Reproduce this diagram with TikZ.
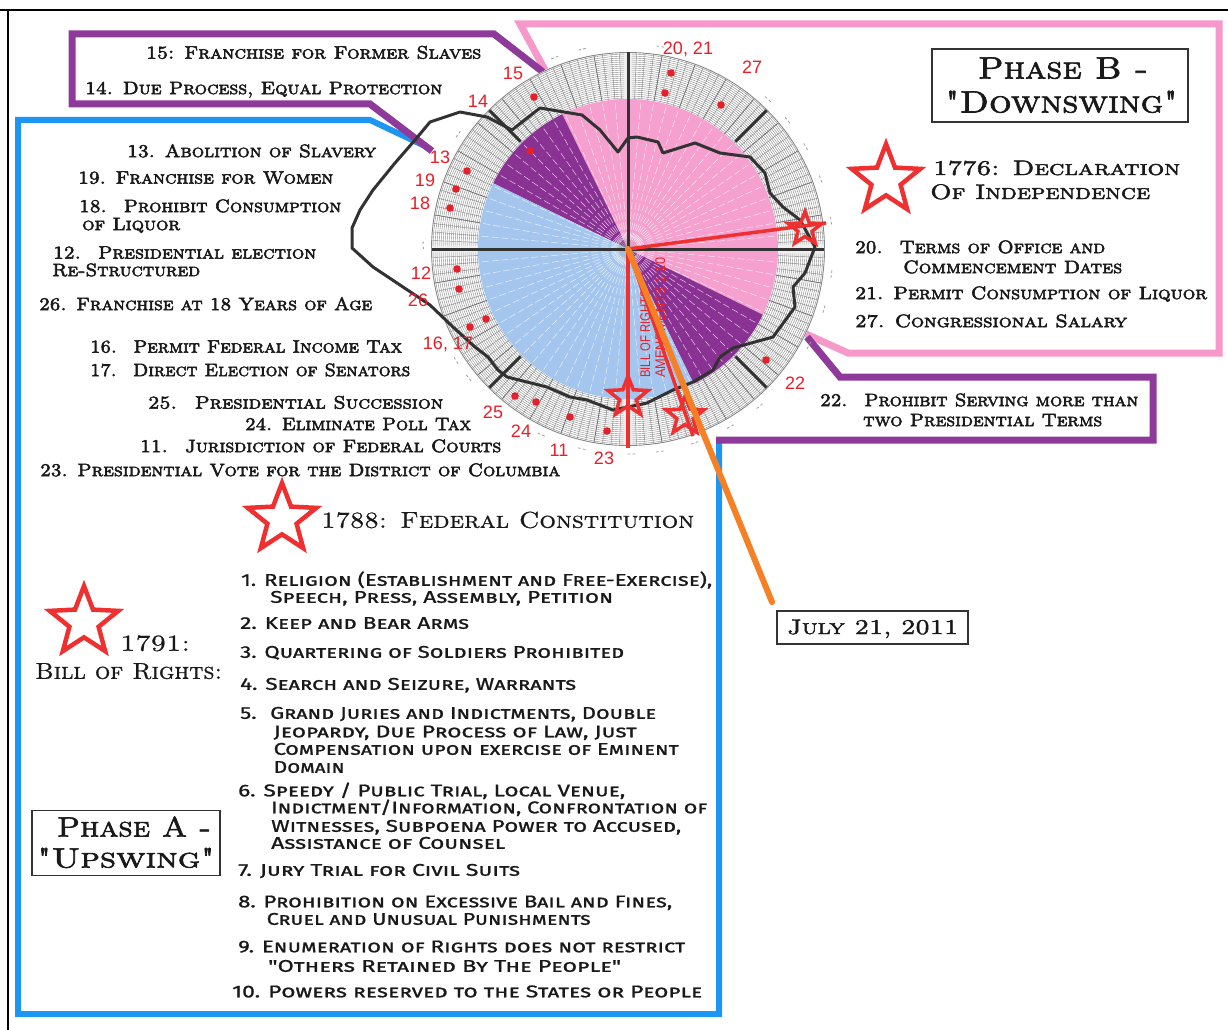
\documentclass[tikz,border=0pt]{standalone}
\usepackage{fontspec}
\usepackage{graphicx}
\usetikzlibrary{shapes.geometric}

% copperplate-like caps faces, a sans small-caps face and an Arial-like face
\newfontfamily\cgheavy{lmromancaps10-regular.otf}[FakeBold=3]
\newfontfamily\cgmid{lmromancaps10-regular.otf}[FakeBold=2]
\newfontfamily\cglight{lmromancaps10-regular.otf}[FakeBold=0.8]
\newfontfamily\listfont{Fira Sans}[Letters=SmallCaps, FakeBold=1]
\newfontfamily\arialfont{Liberation Sans}

\definecolor{cFramePink}{RGB}{246,152,202}
\definecolor{cFramePurple}{RGB}{142,58,155}
\definecolor{cFrameBlue}{RGB}{28,150,242}
\definecolor{cSecPink}{RGB}{245,160,206}
\definecolor{cSecPurple}{RGB}{138,50,148}
\definecolor{cSecBlue}{RGB}{164,198,238}
\definecolor{cRed}{RGB}{238,48,48}
\definecolor{cLab}{RGB}{232,30,40}
\definecolor{cOrange}{RGB}{246,128,38}
\definecolor{cDark}{RGB}{50,50,50}
\definecolor{cRing}{RGB}{135,135,135}
\definecolor{cInk}{RGB}{25,25,25}

% set a line of text to a given width (horizontal scaling only)
\newlength\fitwd
\newcommand\fitto[2]{\settowidth\fitwd{#2}\scalebox{\fpeval{(#1)/\fitwd}}[1]{#2}}
\newcommand\txtline[6]{\node[#1] (#2) at (#3,#4) {\fitto{#5}{#6}};}

\tikzset{
  sidetxt/.style={font=\cgheavy\fontsize{18}{18}\selectfont, text=cInk, inner sep=0pt, anchor=base west, yshift=-6.1pt},
  bigtxt/.style={font=\cgmid\fontsize{21}{21}\selectfont, text=cInk, inner sep=0pt, anchor=base west, yshift=-7pt},
  thintxt/.style={font=\cglight\fontsize{23}{23}\selectfont, text=cInk, inner sep=0pt, anchor=base west, yshift=-7.8pt},
  phasetxt/.style={font=\cgmid\fontsize{31}{31}\selectfont, text=cInk, inner sep=0pt, anchor=base, yshift=-10.5pt},
  phaseAtxt/.style={font=\cgmid\fontsize{28}{28}\selectfont, text=cInk, inner sep=0pt, anchor=base, yshift=-9.5pt},
  listtxt/.style={font=\listfont\fontsize{17}{17}\selectfont, text=cInk, inner sep=0pt, anchor=base west, yshift=-5.8pt},
  numlab/.style={font=\arialfont\fontsize{18}{18}\selectfont, text=cLab, inner sep=0pt, anchor=base, yshift=-6.5pt},
  rottxt/.style={font=\arialfont\fontsize{14}{14}\selectfont, text=cLab, inner sep=0pt, anchor=base west, rotate=90},
  labelbox/.style={draw=black!80, line width=1.1pt, inner sep=0pt, fill=white},
  redstar/.style={star, star points=5, star point ratio=2.35, draw=cRed, inner sep=0pt},
  frpink/.style={draw=cFramePink, line width=7pt, line join=miter},
  frpurple/.style={draw=cFramePurple, line width=7pt, line join=miter},
  frblue/.style={draw=cFrameBlue, line width=6pt, line join=miter},
  ringline/.style={draw=cRing, line width=0.4pt},
  axisline/.style={draw=cDark, line width=3pt},
  curveline/.style={draw=cDark, line width=3pt, line join=round},
  redline/.style={draw=cRed, line width=3.5pt},
  orangeline/.style={draw=cOrange, line width=6pt, line cap=round},
  dialmark/.style={draw=gray!75, line width=0.8pt},
}

\begin{document}
\begin{tikzpicture}[x=1pt,y=-1pt]
\useasboundingbox (0,0) rectangle (1228,1030);
\fill[white] (0,0) rectangle (1228,1030);

% outer page rules
\draw[black, line width=2pt] (0,10) -- (1228,10);
\draw[black, line width=2pt] (8,10) -- (8,1030);

% phase frames
\draw[frblue] (427,147) -- (370,120) -- (18,120) -- (18,1014) -- (719,1014) -- (719,437);
\draw[frpink] (545,70) -- (520,24) -- (1219,24) -- (1219,353) -- (848,353) -- (806,334);
\draw[frpurple] (543,72) -- (494,34) -- (72,34) -- (72,104) -- (370,104) -- (432,151);
\draw[frpurple] (807,337) -- (840,377) -- (1153,377) -- (1153,440) -- (716,440);

% dial
\coordinate (C) at (628,249);
\fill[white] (C) circle[radius=197];
\foreach \r in {151,153,...,195} \draw[ringline] (C) circle[radius=\r];
\foreach \a in {0,2.5,...,357.5} \draw[ringline] (C) ++(\a:150) -- ++(\a:46);
\foreach \a in {0,10,...,350} \draw[cRing!80!black, line width=0.6pt] (C) ++(\a:150) -- ++(\a:46);
\draw[cRing, line width=0.9pt] (C) circle[radius=196.5];
% small graduation marks outside the rim
\foreach \a in {-112,-104,-82,-48,-40,-31,-21,-9,6,16,27,49,59,70,80,88,102,114,140,146,180,-147}
  {\draw[dialmark] (C) ++(\a:205) -- ++(\a+90:2.5);
   \draw[dialmark] (C) ++(\a+1.4:205) -- ++(\a+91.4:2.5);}

% coloured sectors
\fill[cSecPink] (C) -- ++(-116:150) arc[start angle=-116, end angle=26, radius=150] -- cycle;
\fill[cSecPurple] (C) -- ++(-154:150) arc[start angle=-154, end angle=-116, radius=150] -- cycle;
\fill[cSecPurple] (C) -- ++(26:150) arc[start angle=26, end angle=64, radius=150] -- cycle;
\fill[cSecBlue] (C) -- ++(64:150) arc[start angle=64, end angle=206, radius=150] -- cycle;
\foreach \a in {0,5,...,355} \draw[white, opacity=0.75, line width=0.5pt, dash pattern=on 7pt off 3pt] (C) ++(\a:10) -- ++(\a:138);
\foreach \a in {0,10,...,350} \draw[gray!60, line width=0.3pt] (C) -- ++(\a:12);

% axes and quadrant ticks
\draw[axisline] (C) ++(180:196) -- ++(0:392);
\draw[axisline] (C) -- ++(-90:197);
\foreach \a in {45,135,-45,-135} \draw[axisline] (C) ++(\a:152) -- ++(\a:44);

% trace
\draw[curveline] (430,305) -- (400,285) -- (373,267) -- (352,248) -- (352,228) -- (360,210)
  -- (373,190) -- (395,163) -- (415,140) -- (430,122) -- (460,112) -- (487,117) -- (512,130)
  -- (540,108) -- (582,115) -- (600,130) -- (618,152) -- (628,138) -- (637,137) -- (658,142)
  -- (663,153) -- (695,143) -- (720,153) -- (750,157) -- (765,173) -- (770,193) -- (783,207)
  -- (800,220) -- (815,247) -- (810,260) -- (805,273) -- (793,287) -- (795,307) -- (773,337)
  -- (733,348) -- (720,357) -- (713,370) -- (693,382) -- (673,390) -- (647,403) -- (613,410)
  -- (587,400) -- (570,397) -- (547,387) -- (507,377) -- (498,370) -- (488,357) -- (475,347)
  -- (453,327) -- cycle;

% amendment dots
\foreach \x/\y in {534/97, 530/151, 467/171, 456/189, 450/208, 457/269, 459/289, 486/319,
  470/327, 515/396, 536/402, 570/417, 607/431, 671/73, 665/93, 721/105, 766/360}
  \fill[cLab] (\x,\y) circle[radius=3.8];

% amendment numbers
\node[numlab] (l15) at (513,73) {15};
\node[numlab] (l14) at (478,101) {14};
\node[numlab] (l13) at (440,157) {13};
\node[numlab] (l19) at (425,180) {19};
\node[numlab] (l18) at (420,203) {18};
\node[numlab] (l12) at (421,273) {12};
\node[numlab] (l26) at (418,300) {26};
\node[numlab] (l1617) at (448,343) {16, 17};
\node[numlab] (l25) at (493,412) {25};
\node[numlab] (l24) at (521,431) {24};
\node[numlab] (l11) at (559,450) {11};
\node[numlab] (l23) at (604,458) {23};
\node[numlab] (l2021) at (688,48) {20, 21};
\node[numlab] (l27) at (752,67) {27};
\node[numlab] (l22) at (795,383) {22};

% sector caption
\node[rottxt] (bor1) at (650,378) {\fitto{88}{BILL OF RIGHTS}};
\node[rottxt] (bor2) at (665,378) {\fitto{120}{AMENDMENTS 1-10}};

% date rays and stars
\coordinate (rE) at (826,223);
\coordinate (rS) at (628,448);
\coordinate (rB) at (693,436);
\draw[redline] (C) -- (rE);
\draw[redline] (C) -- (rS);
\draw[redline] (C) -- (rB);
\node[redstar, line width=3.5pt, minimum size=35pt] (sDecl) at (805,229) {};
\node[redstar, line width=3.5pt, minimum size=42pt] (sConst) at (628,397) {};
\node[redstar, line width=3.5pt, minimum size=40pt] (sRights) at (685,416) {};

% today
\node[labelbox, minimum width=191pt, minimum height=33pt] (july) at (872.5,627.5) {};
\txtline{bigtxt}{julyt}{787}{627}{171}{July 21, 2011}
\coordinate (oend) at (772,602);
\draw[orangeline] (C) -- (oend);

% phase B
\node[labelbox, minimum width=256pt, minimum height=73pt] (phB) at (1060,85.5) {};
\txtline{phasetxt}{phB1}{1063}{68}{170}{Phase B -}
\txtline{phasetxt}{phB2}{1061.5}{102}{233}{"Downswing"}
\node[redstar, line width=4.5pt, minimum size=72pt] (s1776) at (886,180) {};
\txtline{bigtxt}{d1}{933}{168}{247}{1776: Declaration}
\txtline{bigtxt}{d2}{930}{192}{220}{Of Independence}
\txtline{sidetxt}{a20a}{855}{247}{250}{20.~ Terms of Office and}
\txtline{sidetxt}{a20b}{903}{267}{219}{Commencement Dates}
\txtline{sidetxt}{a21}{855}{293}{352}{21. Permit Consumption of Liquor}
\txtline{sidetxt}{a27}{855}{321}{272}{27. Congressional Salary}
\txtline{sidetxt}{a22a}{820}{400}{318}{22.~ Prohibit Serving more than}
\txtline{sidetxt}{a22b}{863}{420}{239}{two Presidential Terms}

% upper-left amendments
\txtline{sidetxt}{a15}{146}{52.5}{335}{15: Franchise for Former Slaves}
\txtline{sidetxt}{a14}{85}{88}{357}{14. Due Process, Equal Protection}
\txtline{sidetxt}{a13}{127}{151}{249}{13. Abolition of Slavery}
\txtline{sidetxt}{a19}{78}{177.5}{255}{19. Franchise for Women}
\txtline{sidetxt}{a18a}{79}{206}{262}{18.~ Prohibit Consumption}
\txtline{sidetxt}{a18b}{82}{224}{98}{of Liquor}
\txtline{sidetxt}{a12a}{53}{252.5}{263}{12.~ Presidential election}
\txtline{sidetxt}{a12b}{52}{270}{148}{Re-Structured}
\txtline{sidetxt}{a26}{39}{304}{333}{26. Franchise at 18 Years of Age}
\txtline{sidetxt}{a16}{90}{346.5}{312}{16.~ Permit Federal Income Tax}
\txtline{sidetxt}{a17}{90}{370}{320}{17.~ Direct Election of Senators}
\txtline{sidetxt}{a25}{148}{402.5}{295}{25.~ Presidential Succession}
\txtline{sidetxt}{a24}{245}{424}{226}{24. Eliminate Poll Tax}
\txtline{sidetxt}{a11}{140}{446}{361}{11.~ Jurisdiction of Federal Courts}
\txtline{sidetxt}{a23}{40}{470}{520}{23. Presidential Vote for the District of Columbia}

% constitution and bill of rights
\node[redstar, line width=4.5pt, minimum size=72pt] (s1788) at (282,519) {};
\txtline{thintxt}{c1788}{321}{520}{373}{1788: Federal Constitution}
\node[redstar, line width=4.5pt, minimum size=72pt] (s1791) at (84,622) {};
\txtline{thintxt}{c1791}{120}{643}{70}{1791:}
\txtline{thintxt}{cbor}{35}{671}{187}{Bill of Rights:}

\txtline{listtxt}{b1a}{241}{580}{471}{1. Religion (Establishment and Free-Exercise),}
\txtline{listtxt}{b1b}{270}{597}{343}{Speech, Press, Assembly, Petition}
\txtline{listtxt}{b2}{240}{623}{229}{2. Keep and Bear Arms}
\txtline{listtxt}{b3}{240}{652}{384}{3. Quartering of Soldiers Prohibited}
\txtline{listtxt}{b4}{240}{684}{336}{4. Search and Seizure, Warrants}
\txtline{listtxt}{b5a}{240}{713}{416}{5.~ Grand Juries and Indictments, Double}
\txtline{listtxt}{b5b}{273.5}{731.5}{363}{Jeopardy, Due Process of Law, Just}
\txtline{listtxt}{b5c}{273.5}{749}{405}{Compensation upon exercise of Eminent}
\txtline{listtxt}{b5d}{273.5}{767}{71}{Domain}
\txtline{listtxt}{b6a}{238}{790.5}{387}{6. Speedy / Public Trial, Local Venue,}
\txtline{listtxt}{b6b}{271}{807.5}{436}{Indictment/Information, Confrontation of}
\txtline{listtxt}{b6c}{271}{826}{410}{Witnesses, Subpoena Power to Accused,}
\txtline{listtxt}{b6d}{271}{843}{234}{Assistance of Counsel}
\txtline{listtxt}{b7}{238}{870}{282}{7. Jury Trial for Civil Suits}
\txtline{listtxt}{b8a}{238}{901.5}{434}{8. Prohibition on Excessive Bail and Fines,}
\txtline{listtxt}{b8b}{266.5}{919}{324}{Cruel and Unusual Punishments}
\txtline{listtxt}{b9a}{238}{946.5}{447}{9. Enumeration of Rights does not restrict}
\txtline{listtxt}{b9b}{268}{966}{353}{"Others Retained By The People"}
\txtline{listtxt}{b10}{232}{991.5}{470}{10. Powers reserved to the States or People}

% phase A
\node[labelbox, minimum width=188pt, minimum height=65pt] (phA) at (126,843) {};
\txtline{phaseAtxt}{phA1}{134}{827}{154}{Phase A -}
\txtline{phaseAtxt}{phA2}{126}{858}{178}{"Upswing"}

\end{tikzpicture}
\end{document}
